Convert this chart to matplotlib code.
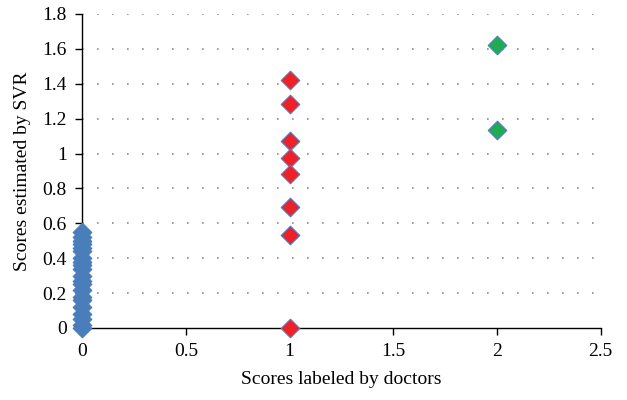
import matplotlib
matplotlib.use("Agg")
import matplotlib.pyplot as plt

# scores estimated by SVR, grouped by doctor label
label0_y = [0.0, 0.02, 0.05, 0.08, 0.12, 0.16, 0.18, 0.22, 0.25, 0.27, 0.30,
            0.34, 0.36, 0.38, 0.40, 0.44, 0.46, 0.48, 0.50, 0.52, 0.55]
label1_y = [1.42, 1.285, 1.07, 0.975, 0.885, 0.695, 0.535, 0.0]
label2_y = [1.62, 1.135]

yticks = [0, 0.2, 0.4, 0.6, 0.8, 1, 1.2, 1.4, 1.6, 1.8]
xticks = [0, 0.5, 1, 1.5, 2, 2.5]

plt.rcParams["font.family"] = ["Liberation Serif", "DejaVu Serif"]

fig = plt.figure(figsize=(6.27, 4.0), dpi=100)
ax = fig.add_axes([0.131, 0.18, 0.827, 0.785])

edge = "#4F7FC4"
ax.scatter([0] * len(label0_y), label0_y, marker="D", s=90, color="#4A7EBB",
           edgecolor="#4A7EBB", linewidth=0.8, zorder=3, clip_on=False)
ax.scatter([1] * len(label1_y), label1_y, marker="D", s=90, color="#EE2028",
           edgecolor=edge, linewidth=0.8, zorder=3, clip_on=False)
ax.scatter([2] * len(label2_y), label2_y, marker="D", s=90, color="#21A954",
           edgecolor=edge, linewidth=0.8, zorder=3, clip_on=False)

ax.set_xlim(0, 2.5)
ax.set_ylim(0, 1.8)
ax.set_xticks(xticks)
ax.set_xticklabels([f"{t:g}" for t in xticks])
ax.set_yticks(yticks)
ax.set_yticklabels([f"{t:g}" for t in yticks])

for t in yticks[1:]:
    ax.axhline(t, color="#8C8C8C", lw=1.2, ls=(0, (1, 8)), zorder=1)

for side in ("top", "right"):
    ax.spines[side].set_visible(False)
for side in ("left", "bottom"):
    ax.spines[side].set_linewidth(1.0)

ax.tick_params(axis="both", direction="out", length=5, width=1.0,
               labelsize=14, pad=6)

ax.set_xlabel("Scores labeled by doctors", fontsize=14, labelpad=8)
ax.set_ylabel("Scores estimated by SVR", fontsize=14, labelpad=8)

fig.savefig("out.png", dpi=100)
